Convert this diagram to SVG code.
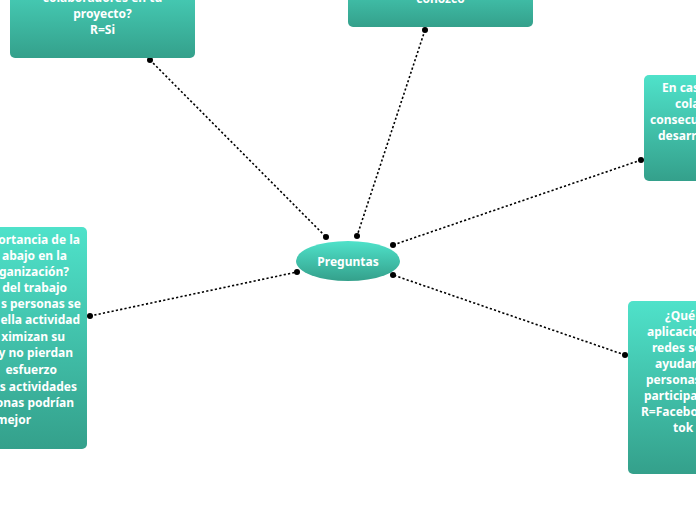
<svg xmlns="http://www.w3.org/2000/svg" width="696" height="520" viewBox="0 0 696 520">
<style>
.box{fill:url(#g);}
.t{font-family:"Noto Sans","Open Sans",sans-serif;font-weight:700;font-size:12px;fill:#ffffff;}
.c{text-anchor:middle;}
.e{text-anchor:end;}
.conn line{stroke:#000;stroke-width:1.6;stroke-dasharray:2.2 2.2;}
.conn circle{fill:#000;}
</style>
<defs>
<linearGradient id="g" x1="0" y1="0" x2="0" y2="1">
<stop offset="0" stop-color="#4fe2ca"/>
<stop offset="1" stop-color="#34a08b"/>
</linearGradient>
</defs>
<rect width="696" height="520" fill="#fff"/>
<g id="connectors" class="conn">
<line x1="150" y1="60" x2="326" y2="237"/>
<line x1="425" y1="30" x2="357" y2="236"/>
<line x1="641" y1="160" x2="393" y2="245"/>
<line x1="90" y1="316" x2="297" y2="272"/>
<line x1="625" y1="355" x2="393" y2="275"/>
<circle cx="150" cy="60" r="3"/><circle cx="326" cy="237" r="3"/>
<circle cx="425" cy="30" r="3"/><circle cx="357" cy="236" r="3"/>
<circle cx="641" cy="160" r="3"/><circle cx="393" cy="245" r="3"/>
<circle cx="90" cy="316" r="3"/><circle cx="297" cy="272" r="3"/>
<circle cx="625" cy="355" r="3"/><circle cx="393" cy="275" r="3"/>
</g>
<g id="center">
<ellipse cx="348" cy="261" rx="52" ry="20" class="box"/>
<text x="348" y="266" class="t c">Preguntas</text>
</g>
<g id="node-topleft">
<rect x="10" y="-40" width="185" height="98" rx="5" class="box"/>
<text x="102.5" y="2" class="t c">colaboradores en tu</text>
<text x="102.5" y="18" class="t c">proyecto?</text>
<text x="102.5" y="34" class="t c">R=Si</text>
</g>
<g id="node-top">
<rect x="348" y="-40" width="185" height="67" rx="5" class="box"/>
<text x="440.5" y="3" class="t c">conozco</text>
</g>
<g id="node-right-top">
<rect x="644" y="75" width="120" height="106" rx="5" class="box"/>
<text x="662" y="92" class="t">En cas</text>
<text x="675" y="108" class="t">cola</text>
<text x="650" y="124" class="t">consecu</text>
<text x="658" y="140" class="t">desarr</text>
</g>
<g id="node-left">
<rect x="-100" y="227" width="187" height="222" rx="5" class="box"/>
<text x="80" y="244" class="t e">ortancia de la</text>
<text x="67" y="260" class="t e">abajo en la</text>
<text x="69" y="276" class="t e">ganización?</text>
<text x="67" y="292" class="t e">del trabajo</text>
<text x="81" y="308" class="t e">s personas se</text>
<text x="80" y="324" class="t e">ella actividad</text>
<text x="65" y="341" class="t e">ximizan su</text>
<text x="73" y="357" class="t e">y no pierdan</text>
<text x="57" y="374" class="t e">esfuerzo</text>
<text x="77" y="391" class="t e">s actividades</text>
<text x="74" y="407" class="t e">onas podrían</text>
<text x="31" y="424" class="t e">mejor</text>
</g>
<g id="node-right-bottom">
<rect x="628" y="301" width="120" height="173" rx="5" class="box"/>
<text x="665" y="320" class="t">¿Qué</text>
<text x="647" y="336" class="t">aplicacio</text>
<text x="652" y="352" class="t">redes so</text>
<text x="655" y="368" class="t">ayudar</text>
<text x="646" y="384" class="t">personas</text>
<text x="644" y="400" class="t">participa</text>
<text x="641" y="416" class="t">R=Facebo</text>
<text x="673" y="432" class="t">tok</text>
</g>
</svg>
